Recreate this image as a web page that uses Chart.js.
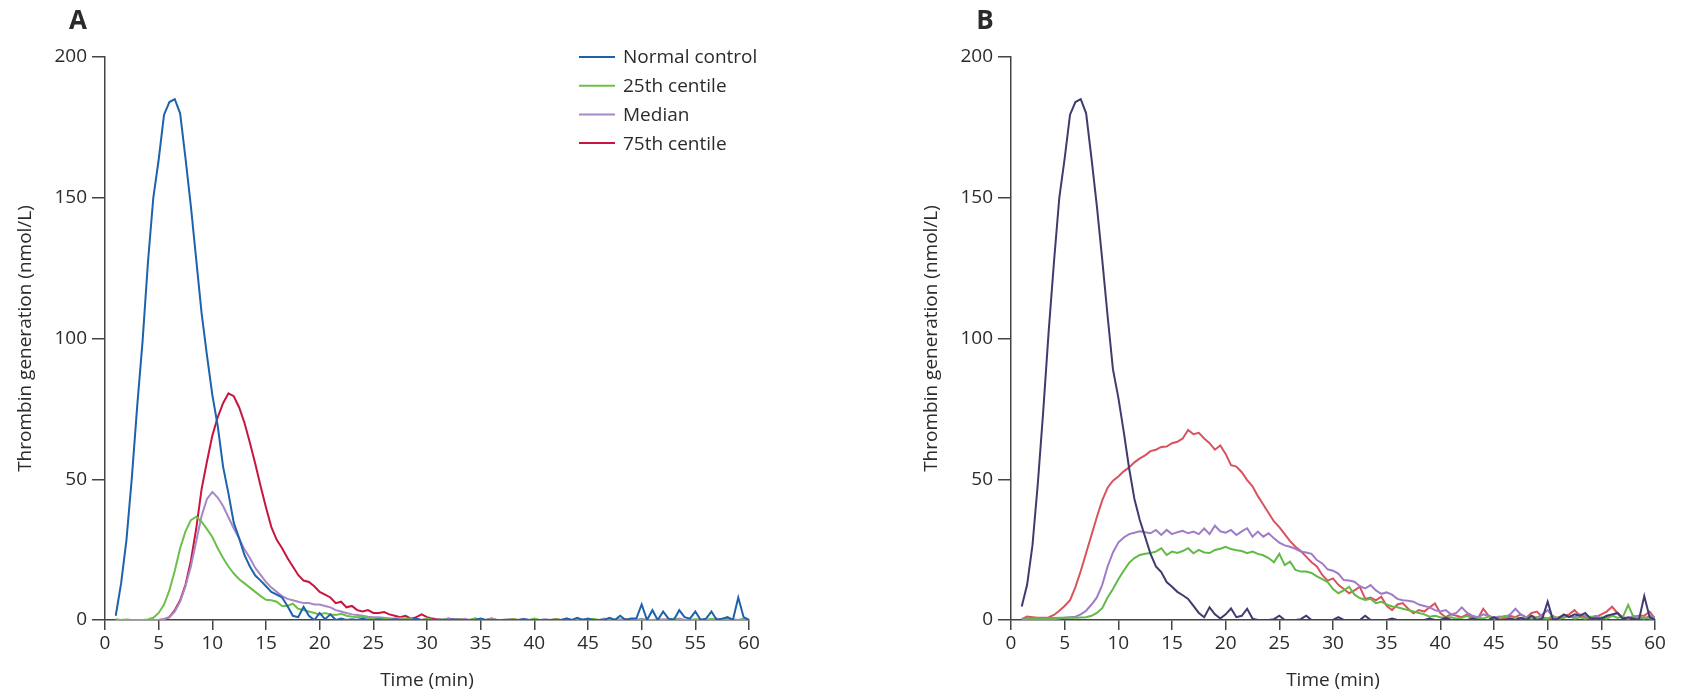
<!DOCTYPE html>
<html lang="en">
<head>
<meta charset="UTF-8">
<title>Thrombin generation</title>
<script src="https://cdn.jsdelivr.net/npm/chart.js@4.4.1/dist/chart.umd.min.js"></script>
<style>
  body { margin: 0; background: #fff; }
  #wrap { position: relative; width: 1683px; height: 695px; }
  canvas { position: absolute; top: 0; }
  #chartA { left: 0; }
  #chartB { left: 842px; }
</style>
</head>
<body>
<div id="wrap">
  <canvas id="chartA" width="842" height="695"></canvas>
  <canvas id="chartB" width="841" height="695"></canvas>
</div>

<script>
// sample times (min), one reading every 30 s
const times = [
  1, 1.5, 2, 2.5, 3, 3.5, 4, 4.5, 5, 5.5,
  6, 6.5, 7, 7.5, 8, 8.5, 9, 9.5, 10, 10.5,
  11, 11.5, 12, 12.5, 13, 13.5, 14, 14.5, 15, 15.5,
  16, 16.5, 17, 17.5, 18, 18.5, 19, 19.5, 20, 20.5,
  21, 21.5, 22, 22.5, 23, 23.5, 24, 24.5, 25, 25.5,
  26, 26.5, 27, 27.5, 28, 28.5, 29, 29.5, 30, 30.5,
  31, 31.5, 32, 32.5, 33, 33.5, 34, 34.5, 35, 35.5,
  36, 36.5, 37, 37.5, 38, 38.5, 39, 39.5, 40, 40.5,
  41, 41.5, 42, 42.5, 43, 43.5, 44, 44.5, 45, 45.5,
  46, 46.5, 47, 47.5, 48, 48.5, 49, 49.5, 50, 50.5,
  51, 51.5, 52, 52.5, 53, 53.5, 54, 54.5, 55, 55.5,
  56, 56.5, 57, 57.5, 58, 58.5, 59, 59.5, 60
];

const seriesLabels = ['Normal control', '25th centile', 'Median', '75th centile'];
const xTicks = [0, 5, 10, 15, 20, 25, 30, 35, 40, 45, 50, 55, 60];
const yTicks = [0, 50, 100, 150, 200];

// Panel A
const controlA = [
  1.5, 13, 28.5, 50.5, 76, 99, 127, 150, 163.5, 179.5,
  184, 185, 180, 164, 147, 128, 109, 94, 80, 69,
  54.5, 45, 34.5, 29, 23, 19, 15.8, 14, 12, 10,
  9, 8, 5, 1.5, 1, 4.7, 1.5, 0, 2.5, 0.3,
  2, 0, 0.5, 0, 0.3, 0, 0.5, 0, 0, 0.3,
  0, 0, 0.3, 0, 0, 0, 0.4, 0, 0, 0,
  0, 0, 0, 0.3, 0, 0, 0, 0, 0.5, 0,
  0, 0, 0, 0, 0, 0, 0.3, 0, 0, 0,
  0, 0, 0, 0, 0.5, 0, 0.8, 0, 0.5, 0,
  0, 0, 0.8, 0, 1.5, 0, 0.5, 0.5, 5.5, 0,
  3.5, 0, 3, 0.5, 0, 3.5, 1, 0.5, 3, 0,
  0.5, 3, 0, 0.5, 1, 0, 8, 1, 0
];
const p25A = [
  0.3, 0, 0.2, 0, 0, 0, 0.2, 0.8, 2.5, 5.5,
  10.5, 17.5, 25.5, 31.5, 35.5, 36.7, 34.9, 32.3, 29.5, 25.5,
  22, 19, 16.5, 14.5, 13, 11.5, 10, 8.5, 7.2, 7,
  6.5, 5, 5, 5.8, 4, 3.5, 3, 2.5, 2, 2.5,
  2, 1.8, 2.2, 1.5, 1.2, 1, 1.2, 0.8, 0.5, 0.3,
  0.5, 0, 0.3, 0, 0.6, 0, 0.2, 0, 0.4, 0,
  0, 0.3, 0, 0, 0.2, 0, 0, 0.6, 0, 0,
  0.2, 0, 0, 0, 0.3, 0, 0, 0, 0.5, 0,
  0, 0, 0.3, 0, 0, 0, 0.2, 0, 0, 0.4,
  0, 0, 0, 0.3, 0, 0, 0, 0, 0.2, 0,
  0, 0.3, 0, 0, 0.5, 0, 0, 0, 0.3, 0,
  0, 0.4, 0, 0, 0.5, 0, 0, 0.3, 0
];
const medA = [
  0, 0, 0, 0, 0, 0, 0, 0, 0, 0.3,
  1, 3, 6.5, 12, 19, 28, 37, 43, 45.5, 43.5,
  40.5, 36.5, 32.5, 29, 25, 22, 18.5, 16, 13.5, 11.5,
  10, 8.5, 7.5, 7, 6.5, 6, 6, 5.5, 5.5, 5,
  4.5, 3.5, 3, 2.5, 2, 1.8, 1.5, 1.2, 1, 1,
  0.8, 0.6, 0.5, 0.8, 0.3, 0.5, 0.2, 0, 0.5, 0,
  0.3, 0, 0.5, 0, 0, 0.4, 0, 0.3, 0, 0,
  0.5, 0, 0, 0.3, 0, 0, 0.4, 0, 0, 0,
  0.3, 0, 0, 0, 0.5, 0, 0, 0.3, 0, 0,
  0, 0.5, 0, 0, 0.3, 0, 0, 0, 0.4, 0,
  0, 0, 0.3, 0, 0, 0.5, 0, 0, 0, 0.3,
  0, 0, 0.5, 0, 0, 0.3, 0, 0.4, 0
];
const p75A = [
  0, 0, 0, 0, 0, 0, 0, 0, 0, 0.3,
  1, 3.5, 7, 12.5, 21, 32.5, 46.5, 56.3, 65.5, 72,
  77, 80.5, 79.5, 75.5, 70, 63, 55.5, 47.5, 40, 33,
  28.5, 25.5, 22, 19, 16, 14, 13.5, 12, 10, 9,
  8, 6, 6.5, 4.5, 5, 3.5, 3, 3.5, 2.5, 2.5,
  2.8, 2, 1.5, 1, 1.5, 0.5, 1, 2, 1, 0.5,
  0.3, 0, 0.5, 0, 0.3, 0, 0, 0.4, 0, 0,
  0.5, 0, 0, 0, 0.3, 0, 0, 0, 0, 0,
  0, 0, 0.3, 0, 0, 0, 0, 0, 0.3, 0,
  0, 0, 0, 0, 0, 0.3, 0, 0, 0, 0,
  0, 0, 0, 0.3, 0, 0, 0, 0, 0, 0,
  0, 0, 0.3, 0, 0, 0, 0, 0, 0
];

// Panel B
const controlB = [
  4.8, 12.5, 26.5, 48.5, 74, 102, 127, 150, 164, 179.5,
  184, 185, 180, 164, 147, 128, 108, 89, 79, 67,
  54, 43, 35.5, 29.5, 23.5, 19, 17, 13.5, 11.8, 10,
  8.8, 7.5, 5, 2.5, 1, 4.5, 2, 0.5, 2, 4.1,
  1, 1.5, 4, 0.5, 0, 0, 0, 0.3, 1.5, 0,
  0, 0, 0.3, 1.5, 0, 0, 0, 0, 0, 1,
  0, 0, 0, 0, 1.5, 0, 0, 0, 0, 0.5,
  0, 0, 0, 0, 0, 0, 0.5, 0, 0, 0.8,
  0, 0, 0, 0, 0.5, 0, 0, 0, 1, 0,
  0, 0.5, 0, 0.8, 0, 1.5, 0, 0.5, 6.5, 0,
  0.5, 2, 1, 2, 1.5, 2.5, 0.5, 0.5, 0.5, 1.5,
  2, 2.5, 0.5, 1, 0.5, 0, 8.5, 1, 0
];
const p25B = [
  0, 0.3, 0.5, 0.5, 0.5, 0.6, 0.7, 0.8, 0.8, 0.8,
  0.8, 0.9, 1, 1.5, 2.5, 4.2, 8, 11, 14.5, 17.5,
  20.3, 22, 23.1, 23.5, 23.8, 24.3, 25.5, 23.1, 24.3, 23.8,
  24.5, 25.5, 23.7, 24.9, 24, 23.8, 24.9, 25.3, 26, 25.2,
  24.8, 24.5, 23.7, 24.3, 23.5, 23, 22, 20.5, 23.5, 19.5,
  20.7, 17.8, 17.2, 17.2, 16.7, 15.5, 14.5, 13.5, 11, 9.5,
  10.5, 11.8, 9, 7.8, 7.1, 7.5, 6, 6.5, 5.5, 4.8,
  4.5, 4, 3.5, 3, 2.5, 2, 1.2, 1.5, 1, 0.8,
  1, 0.5, 0.8, 1.5, 0.5, 0.8, 0.5, 1.2, 0.5, 0.8,
  1.5, 0.5, 1, 0.5, 0.8, 0.5, 1, 0.5, 0.5, 1.5,
  0.5, 0.8, 1.5, 0.5, 1, 0.5, 1.2, 0.5, 1, 0.5,
  1.5, 0.8, 1, 5.3, 1, 0.5, 1, 0.5, 0.5
];
const medB = [
  0.3, 0.5, 0.3, 0.2, 0.3, 0.2, 0.3, 0.5, 0.8, 1,
  1.2, 2, 3.3, 5.5, 8, 12.5, 19, 24, 27.5, 29.3,
  30.5, 31, 31.5, 31.2, 30.8, 32, 30.2, 32, 30.5, 31.2,
  31.7, 30.8, 31.4, 30.5, 32.5, 30.5, 33.5, 31.5, 31, 32,
  30.2, 31.5, 32.6, 29.6, 31.4, 29.6, 30.8, 29, 27.5, 26.5,
  26, 25.3, 24.3, 24, 23.5, 21.3, 20.1, 18, 17.5, 16.5,
  14.2, 14, 13.6, 12, 11.2, 12.4, 10.5, 9.3, 9.8, 9,
  7.5, 7, 6.8, 6.5, 5.5, 5, 4.5, 3.5, 3, 3.5,
  2, 2.5, 4.5, 2.5, 1.5, 1, 2, 1.5, 0.8, 1.2,
  1, 2, 4, 2, 1, 1.5, 0.8, 2, 3.5, 1,
  0.5, 1, 1.5, 1, 2, 1.5, 1, 1.5, 0.5, 1,
  1.5, 2.5, 1, 0.5, 1.5, 1, 0.5, 1.5, 1
];
const p75B = [
  0.3, 1.2, 1, 0.8, 0.8, 0.9, 1.8, 3.3, 5, 7,
  11.7, 17.4, 23.8, 30.2, 36.6, 42.5, 47, 49.5, 51, 52.8,
  54.2, 56, 57.4, 58.5, 60, 60.5, 61.5, 61.6, 62.8, 63.3,
  64.5, 67.5, 66, 66.5, 64.5, 62.8, 60.5, 62, 59, 55,
  54.5, 52.5, 49.7, 47.5, 44, 41, 38, 35, 33, 30.5,
  28, 26, 24.5, 22.5, 20.5, 19, 16, 14, 14.8, 12.5,
  11, 9.5, 10.5, 11.8, 7.5, 8, 7, 8.3, 5, 3.5,
  5.5, 6, 4, 2.4, 3.5, 3, 4.5, 5.9, 2.5, 1,
  2, 1.5, 1, 2, 1, 0.5, 4, 1.5, 0.5, 1,
  0.5, 1.5, 1, 2, 0.8, 2.5, 3, 1, 0.5, 0.5,
  1, 1.5, 2, 3.5, 1.5, 1, 0.5, 1, 2, 3,
  4.7, 2.5, 1, 0.5, 1, 1.5, 1.5, 3, 0.5
];

const coloursA = ['#1d62ad', '#6cc04a', '#a688c9', '#c8153f'];
const coloursB = ['#3e3c6e', '#62b946', '#9f7bc8', '#d9525e'];

const textColour = '#2b2b2b';
const axisColour = '#444';
Chart.defaults.font.family = '"Open Sans", sans-serif';

function toPoints(values) {
  return values.map((v, i) => ({ x: times[i], y: v }));
}

function makeDatasets(seriesList, colours) {
  return seriesList.map((values, i) => ({
    label: seriesLabels[i],
    data: toPoints(values),
    borderColor: colours[i],
    backgroundColor: colours[i],
    borderWidth: 2,
    pointRadius: 0,
    tension: 0,
    fill: false
  }));
}

// panel letter and the in-plot legend
const panelDecor = {
  id: 'panelDecor',
  afterDraw(chart, args, opts) {
    const ctx = chart.ctx;
    ctx.save();
    ctx.fillStyle = textColour;
    ctx.font = 'bold 26px "Open Sans"';
    ctx.textAlign = 'center';
    ctx.textBaseline = 'middle';
    ctx.fillText(opts.letter, opts.letterX, 22);
    if (opts.legend) {
      ctx.font = '19px "Open Sans"';
      ctx.textAlign = 'left';
      chart.data.datasets.forEach((ds, i) => {
        const y = 57 + i * 28.7;
        ctx.strokeStyle = ds.borderColor;
        ctx.lineWidth = 2;
        ctx.beginPath();
        ctx.moveTo(579, y);
        ctx.lineTo(615, y);
        ctx.stroke();
        ctx.fillText(ds.label, 623, y + 1);
      });
    }
    ctx.restore();
  }
};

function makeOptions(padLeft, padRight, decor) {
  const tickFont = { size: 19 };
  const titleFont = { size: 19, lineHeight: 1.2 };
  return {
    responsive: false,
    animation: false,
    layout: { padding: { left: padLeft, right: padRight, top: 57, bottom: 3 } },
    plugins: {
      legend: { display: false },
      tooltip: { enabled: false },
      panelDecor: decor
    },
    scales: {
      x: {
        type: 'linear',
        min: 0,
        max: 60,
        afterBuildTicks: s => { s.ticks = xTicks.map(v => ({ value: v })); },
        afterFit: s => { s.height = 72; },
        ticks: { font: tickFont, color: textColour, padding: 2, maxRotation: 0, autoSkip: false },
        grid: { drawOnChartArea: false, drawTicks: true, tickLength: 10, color: axisColour, lineWidth: 1.5 },
        border: { display: true, color: axisColour, width: 1.5 },
        title: { display: true, text: 'Time (min)', font: titleFont, color: textColour, padding: 0 }
      },
      y: {
        min: 0,
        max: 200,
        afterBuildTicks: s => { s.ticks = yTicks.map(v => ({ value: v })); },
        afterFit: s => { s.width = 91; },
        ticks: { font: tickFont, color: textColour, padding: 5 },
        grid: { drawOnChartArea: false, drawTicks: true, tickLength: 13, color: axisColour, lineWidth: 1.5 },
        border: { display: true, color: axisColour, width: 1.5 },
        title: { display: true, text: 'Thrombin generation (nmol/L)', font: titleFont, color: textColour, padding: 0 }
      }
    }
  };
}

new Chart(document.getElementById('chartA'), {
  type: 'line',
  data: { datasets: makeDatasets([controlA, p25A, medA, p75A], coloursA) },
  options: makeOptions(14, 93, { letter: 'A', letterX: 78, legend: true }),
  plugins: [panelDecor]
});

new Chart(document.getElementById('chartB'), {
  type: 'line',
  data: { datasets: makeDatasets([controlB, p25B, medB, p75B], coloursB) },
  options: makeOptions(78, 28, { letter: 'B', letterX: 143, legend: false }),
  plugins: [panelDecor]
});
</script>
</body>
</html>
